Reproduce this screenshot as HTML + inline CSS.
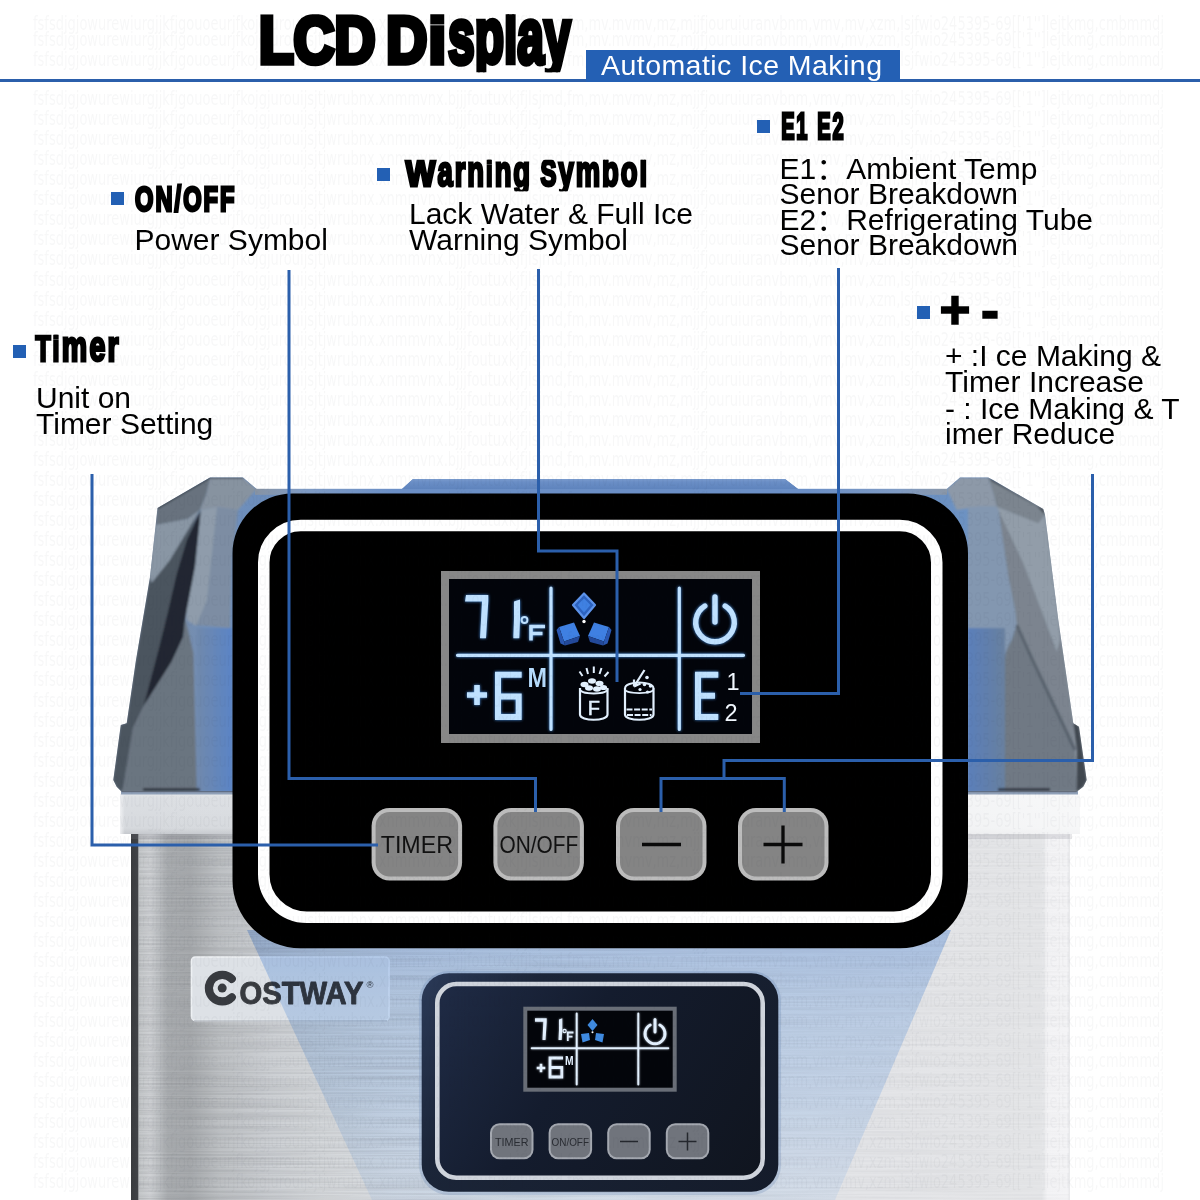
<!DOCTYPE html>
<html lang="en">
<head>
<meta charset="utf-8">
<title>LCD Display - Automatic Ice Making</title>
<style>
html,body{margin:0;padding:0;background:#fff;}
body{width:1200px;height:1200px;overflow:hidden;position:relative;font-family:"Liberation Sans","Noto Sans CJK SC",sans-serif;}
svg{position:absolute;left:0;top:0;display:block;}
.h{font-family:"Liberation Sans",sans-serif;font-weight:bold;fill:#000;stroke:#000;stroke-linejoin:miter;}
.t{font-family:"Liberation Sans","Noto Sans CJK SC",sans-serif;font-size:30px;fill:#000;}
.bl{fill:none;stroke:#2b5fab;stroke-width:3;stroke-linejoin:miter;}
.bq{fill:#2360b4;}
.wm{font-family:"DejaVu Sans Condensed","Liberation Sans",sans-serif;font-size:19px;fill:#1d2333;opacity:.032;}
</style>
</head>
<body>
<svg width="1200" height="1200" viewBox="0 0 1200 1200">
<defs>
<!--DEFS-->
</defs>
<rect width="1200" height="1200" fill="#fff"/>
<g id="machine">
<defs>
<linearGradient id="steel" x1="131" y1="0" x2="1072" y2="0" gradientUnits="userSpaceOnUse">
<stop offset="0" stop-color="#3a3c3f"/>
<stop offset="0.0069" stop-color="#404246"/>
<stop offset="0.0085" stop-color="#c4c7c9"/>
<stop offset="0.02" stop-color="#cfd1d4"/>
<stop offset="0.0276" stop-color="#c2c5c8"/>
<stop offset="0.039" stop-color="#abaeb1"/>
<stop offset="0.0627" stop-color="#a8abae"/>
<stop offset="0.0946" stop-color="#bec1c4"/>
<stop offset="0.148" stop-color="#cccfd3"/>
<stop offset="0.2" stop-color="#d4d7da"/>
<stop offset="0.286" stop-color="#dbdee2"/>
<stop offset="0.4" stop-color="#e0e3e6"/>
<stop offset="0.55" stop-color="#e3e5e8"/>
<stop offset="0.80" stop-color="#e4e5e8"/>
<stop offset="0.968" stop-color="#e5e6e8"/>
<stop offset="0.974" stop-color="#f3f3f5"/>
<stop offset="0.995" stop-color="#f4f4f6"/>
<stop offset="1" stop-color="#dcdde0"/>
</linearGradient>
<linearGradient id="rim" x1="0" y1="794" x2="0" y2="834" gradientUnits="userSpaceOnUse">
<stop offset="0" stop-color="#e2e5e8"/>
<stop offset="0.1" stop-color="#dcdfe3"/>
<stop offset="0.85" stop-color="#d6d9dd"/>
<stop offset="1" stop-color="#c6c9ce"/>
</linearGradient>
<linearGradient id="rimx" x1="120" y1="0" x2="1080" y2="0" gradientUnits="userSpaceOnUse">
<stop offset="0" stop-color="#f2f3f5" stop-opacity=".9"/>
<stop offset="0.005" stop-color="#f2f3f5" stop-opacity=".0"/>
<stop offset="0.3" stop-color="#fff" stop-opacity=".1"/>
<stop offset="0.75" stop-color="#fff" stop-opacity=".55"/>
<stop offset="1" stop-color="#fff" stop-opacity=".8"/>
</linearGradient>
<linearGradient id="cov" x1="113" y1="0" x2="1088" y2="0" gradientUnits="userSpaceOnUse">
<stop offset="0" stop-color="#6e7b8c"/>
<stop offset="0.06" stop-color="#7b8ca3"/>
<stop offset="0.10" stop-color="#6f8fbb"/>
<stop offset="0.5" stop-color="#5f86c0"/>
<stop offset="0.885" stop-color="#6d92c2"/>
<stop offset="0.93" stop-color="#8092a8"/>
<stop offset="1" stop-color="#8d949d"/>
</linearGradient>
<linearGradient id="covy" x1="0" y1="478" x2="0" y2="792" gradientUnits="userSpaceOnUse">
<stop offset="0" stop-color="#fff" stop-opacity=".22"/>
<stop offset="0.35" stop-color="#fff" stop-opacity=".05"/>
<stop offset="0.75" stop-color="#1a2a44" stop-opacity=".12"/>
<stop offset="1" stop-color="#1a2a44" stop-opacity=".28"/>
</linearGradient>
<linearGradient id="lblue" x1="196" y1="0" x2="233" y2="0" gradientUnits="userSpaceOnUse">
<stop offset="0" stop-color="#7189ab"/><stop offset="1" stop-color="#5a84c6"/></linearGradient>
<linearGradient id="rblue" x1="968" y1="0" x2="1005" y2="0" gradientUnits="userSpaceOnUse">
<stop offset="0" stop-color="#5a7fba"/><stop offset="1" stop-color="#68809f"/></linearGradient>
<linearGradient id="covtop" x1="0" y1="479" x2="0" y2="489" gradientUnits="userSpaceOnUse">
<stop offset="0" stop-color="#7a9bcd"/><stop offset="0.3" stop-color="#6a8ec6"/><stop offset="1" stop-color="#5f84bd"/></linearGradient>
<linearGradient id="bandg" x1="255" y1="0" x2="947" y2="0" gradientUnits="userSpaceOnUse"><stop offset="0" stop-color="#8793a3"/><stop offset="0.07" stop-color="#7f9bc4"/><stop offset="0.2" stop-color="#6b8fc6"/><stop offset="0.8" stop-color="#6b8fc6"/><stop offset="0.93" stop-color="#7f9bc4"/><stop offset="1" stop-color="#8a97a8"/></linearGradient>
<linearGradient id="cone" x1="0" y1="930" x2="0" y2="1200" gradientUnits="userSpaceOnUse">
<stop offset="0" stop-color="#bcd4f6"/>
<stop offset="0.26" stop-color="#cfe2fa"/>
<stop offset="0.63" stop-color="#dcebfd"/>
<stop offset="1" stop-color="#eef6ff"/>
</linearGradient>
</defs>
<!-- steel body -->
<rect x="131" y="828" width="939" height="372" fill="url(#steel)"/>
<filter id="brush" x="0" y="0" width="100%" height="100%" color-interpolation-filters="sRGB">
<feTurbulence type="fractalNoise" baseFrequency="0.006 0.55" numOctaves="2" seed="4"/>
<feColorMatrix type="matrix" values="0 0 0 0 0.35  0 0 0 0 0.36  0 0 0 0 0.38  1.6 0 0 0 -0.55"/>
</filter>
<linearGradient id="bmg" x1="139" y1="0" x2="1069" y2="0" gradientUnits="userSpaceOnUse"><stop offset="0" stop-color="#fff"/><stop offset="0.35" stop-color="#bbb"/><stop offset="1" stop-color="#333"/></linearGradient>
<mask id="bm" maskUnits="userSpaceOnUse" x="139" y="834" width="930" height="366"><rect x="139" y="834" width="930" height="366" fill="url(#bmg)"/></mask>
<g mask="url(#bm)"><rect x="139" y="834" width="930" height="366" filter="url(#brush)" opacity=".24"/></g>
<!-- rim band -->
<path d="M120 794H1080V834H120Z" fill="url(#rim)"/>
<path d="M120 794H1080V834H120Z" fill="url(#rimx)"/>
<rect x="121" y="790" width="957" height="4.5" fill="#8fa0b8"/>
<rect x="131" y="834" width="941" height="5" fill="#7d8188" opacity=".18"/>
<!-- translucent cover -->
<path d="M121.7 791.7L116.7 786.7L113.3 780L120.8 725L126.7 723.3L136 660L150 577L157.5 508L210 477.5H243L256.7 489H402L413 479H785L798 489H946.7L960 477.5H988.3L993 480L1043.3 509L1045 515L1058.3 620L1073.3 723.3L1079 726.7L1086.7 780L1083.3 786.7L1076.7 791.7Z" fill="url(#cov)"/>
<rect x="255" y="488.8" width="692" height="6" fill="url(#bandg)"/>
<path d="M402 489L413 479H785L798 489Z" fill="url(#covtop)"/>
<clipPath id="covclip"><path d="M121.7 791.7L116.7 786.7L113.3 780L120.8 725L126.7 723.3L136 660L150 577L157.5 508L210 477.5H243L256.7 489H402L413 479H785L798 489H946.7L960 477.5H988.3L993 480L1043.3 509L1045 515L1058.3 620L1073.3 723.3L1079 726.7L1086.7 780L1083.3 786.7L1076.7 791.7Z"/></clipPath>
<filter id="soft" x="-5%" y="-5%" width="110%" height="110%"><feGaussianBlur stdDeviation="0.9"/></filter>
<g clip-path="url(#covclip)"><g filter="url(#soft)">
<!-- left facets -->
<path d="M200.8 510L217 507L238 510L232 560L230 628L195 625L186.7 620L186.7 610L195 566.7Z" fill="#7d8da3"/>
<path d="M200.8 510L217 507L207 600L196 626L186.7 620L186.7 610L195 566.7Z" fill="#8f9cab"/>
<path d="M196.7 628H232.5V791.7H196.7Z" fill="url(#lblue)"/>
<path d="M157.5 508L210 477.5L206.7 493L200 510L187.5 519L156 525Z" fill="#67727e"/>
<path d="M210 477.5H243L256.7 489L238 510L217 507L200 510L206.7 493Z" fill="#8793a0"/>
<path d="M156 525L187.5 519L200 510L170 560L151.7 583L149 577Z" fill="#8996a4"/>
<path d="M200 510L186.7 540L176.7 573.3L167 615L158.3 650L143.3 706.7L133 728L123 788L121.7 791.7L116.7 786.7L113.3 780L120.8 725L126.7 723.3L136 660L150 577L151.7 583L170 560Z" fill="#4b545e"/>
<path d="M200.8 510L195 566.7L186.7 610L185 620L183.3 636.7L171.7 661.7L143.3 706.7L158.3 650L167 615L176.7 573.3L186.7 540Z" fill="#222830"/>
<path d="M185 620L186.7 625L193.3 653L196.7 791.7H121.7L123 788L133 728L143.3 706.7L171.7 661.7L183.3 636.7Z" fill="#6a7580"/>
<path d="M157.5 508L210 477.5H243" fill="none" stroke="#2b3037" stroke-width="1.6"/>
<path d="M143 789.5H200" stroke="#2a2f38" stroke-width="2.4"/>
<!-- right facets -->
<path d="M946.7 489L960 477.5H988.3L993.3 493.3L996.7 506.7L978.3 506.7L956.7 510Z" fill="#8d99a8"/>
<path d="M988.3 477.5L993 480L1043.3 509L1045 515L1038.3 523.3L996.7 506.7L993.3 493.3Z" fill="#7c858f"/>
<path d="M988.3 477.5L993 480L1043.3 509L1045 515L1037 506L992 481.5Z" fill="#3b4149"/>
<path d="M998.3 510L1008.3 576.7L1015 610L1016.7 625L1033.3 661.7L1046.7 690L1075 750L1073.3 723.3L1058.3 620L1045 515L1038.3 523.3L996.7 506.7Z" fill="#7b848f"/>
<path d="M998.3 510L1023.3 563.3L1045 620L1057 652L1060 640L1058.3 620L1045 515L1038.3 523.3L996.7 506.7Z" fill="#929da9"/>

<path d="M968 507L978.3 506.7L996.7 506.7L998.3 510L1008.3 576.7L1015 610L1016.7 625L1005 653V628H968Z" fill="#8397b0"/>
<path d="M968 628H1005V791.7H968Z" fill="url(#rblue)"/>
<path d="M1005 660Q1005 650 1012 640L1016.7 625L1033.3 661.7L1046.7 690L1075 750L1077 788.3L1076.7 791.7H1005Z" fill="#6f7984"/>
<path d="M1016.7 625L1033.3 661.7L1046.7 690L1075 750" fill="none" stroke="#59626d" stroke-width="3"/>
<path d="M1075 723L1079 726.7L1086.7 780L1083.3 786.7L1076.7 791.7L1077 750L1073.3 723.3Z" fill="#3f464f"/>
<path d="M998 789.5H1050" stroke="#2a2f38" stroke-width="2.4"/>
</g></g>
<path d="M121.7 791.7H1076.7" stroke="#5a6270" stroke-width="1.2" opacity=".7"/>
<!-- brand badge -->
<rect x="191.5" y="957" width="197.5" height="63.5" rx="4" fill="#dde1e6"/>
<rect x="191.5" y="957" width="197.5" height="63.5" rx="4" fill="none" stroke="#eef1f4" stroke-width="1.6"/>
<path d="M194 1020.8H387" stroke="#b9bec6" stroke-width="1.2"/>
<g fill="none" stroke="#383b40">
<path d="M231.8 978.9A13.3 13.3 0 1 0 231.8 997.3" stroke-width="8.2" stroke-linecap="round"/>
</g>
<circle cx="222.2" cy="988.1" r="4.5" fill="#383b40"/>
<text x="239.5" y="1003.6" textLength="124" lengthAdjust="spacingAndGlyphs" style="font-family:'Liberation Sans',sans-serif;font-weight:bold;font-size:31px;fill:#383b40;stroke:#383b40;stroke-width:.9px;stroke-linejoin:round">OSTWAY</text>
<text x="366.5" y="988" style="font-family:'Liberation Sans',sans-serif;font-size:9.5px;fill:#383b40">®</text>
<!-- zoom cone -->
<path d="M247 930L372 1200H835L951 930Z" fill="url(#cone)" style="mix-blend-mode:multiply"/>
</g>
<g id="panel">
<defs>
<filter id="glow" x="-20%" y="-20%" width="140%" height="140%"><feGaussianBlur stdDeviation="1.6"/></filter>
<filter id="glow2" x="-20%" y="-20%" width="140%" height="140%"><feGaussianBlur stdDeviation="0.5"/></filter>
<g id="btn"><rect x="0" y="0" width="90.5" height="72.5" rx="18" fill="#bcbcbc"/><rect x="4" y="4" width="82.5" height="64.5" rx="14" fill="#848484"/></g>
</defs>
<path d="M292.5 493.5H908.0A60 60 0 0 1 968.0 553.5V880.2A68 68 0 0 1 900.0 948.2H300.5A68 68 0 0 1 232.5 880.2V553.5A60 60 0 0 1 292.5 493.5Z" fill="#000"/>
<path d="M300.75 525.5H899.75A37 37 0 0 1 936.75 562.5V874.2A43 43 0 0 1 893.75 917.2H306.75A43 43 0 0 1 263.75 874.2V562.5A37 37 0 0 1 300.75 525.5Z" fill="none" stroke="#fff" stroke-width="11.5"/>
<!-- LCD -->
<rect x="441" y="571" width="319" height="172" fill="#878787"/>
<rect x="449" y="579" width="303" height="155" fill="#02040a"/>
<g id="lcd">
<defs><g id="lcdink">
<!-- dividers -->
<path d="M457.5 655.3H743.5M551 588V729.5M679.3 588V729.5" stroke="currentColor" stroke-width="3.2" fill="none" stroke-linecap="round"/>
<!-- 7 -->
<path d="M466 595H488.3V601L486 638.3H480L482 601.5H465Z" fill="currentColor"/>
<!-- 1 -->
<path d="M514 601.5L520 599.5V619L519.3 638.3H513.3L514 619Z" fill="currentColor"/>
<!-- deg F -->
<circle cx="524.5" cy="620" r="2.9" fill="none" stroke="currentColor" stroke-width="2"/>
<path d="M531 640.5V626.5H545M531 633.5H542.5" stroke="currentColor" stroke-width="3.6" fill="none"/>
<!-- + -->
<path d="M467 695H487M477 685V705" stroke="currentColor" stroke-width="5.6" fill="none"/>
<!-- 6 -->
<path d="M521.7 674.7H498V717H518.7V696.5H498" stroke="currentColor" stroke-width="6" fill="none" stroke-linejoin="miter"/>
<!-- power -->
<path d="M704.8 606A19.3 19.3 0 1 0 725.2 606" stroke="currentColor" stroke-width="5.4" fill="none" stroke-linecap="round"/>
<path d="M715 597V622" stroke="currentColor" stroke-width="5.4" fill="none" stroke-linecap="round"/>
<!-- E -->
<path d="M718.3 674.7H698V717H718.3M698 695.8H715" stroke="currentColor" stroke-width="6" fill="none"/>
</g></defs>
<use href="#lcdink" filter="url(#glow)" style="color:#4f9bf0" opacity=".95"/>
<use href="#lcdink" style="color:#bfe1ff"/>
<!-- M, 1, 2, F as real text -->
<text x="527.5" y="686.5" textLength="19.5" lengthAdjust="spacingAndGlyphs" style="font-family:'Liberation Sans',sans-serif;font-weight:bold;font-size:28px;fill:#b6dcfd">M</text>
<text x="726.5" y="690" style="font-family:'Liberation Sans',sans-serif;font-size:23.5px;fill:#f2f8ff">1</text>
<text x="724.5" y="720.5" style="font-family:'Liberation Sans',sans-serif;font-size:23.5px;fill:#f2f8ff">2</text>
<!-- ice cubes -->
<g stroke-linejoin="round">
<path d="M584 593.5L595 605L584 618L573 605Z" fill="#2d63c0" stroke="#5d93ea" stroke-width="2.2"/>
<path d="M584 598.5L590.5 605L584 612.5L577.5 605Z" fill="#3f80e2"/>
<path d="M559 627L574 622.5L580 636L564 641.5Z" fill="#3f80e2"/>
<path d="M594 622.5L609 627L604 641.5L588 636Z" fill="#3f80e2"/>
<path d="M564 641.5L580 636L578 642L565 645.5Z" fill="#23499a"/>
<path d="M588 636L604 641.5L603 645.5L590 642Z" fill="#23499a"/>
<path d="M556.5 630L559 627L564 641.5L565 645.5L560.5 643.5Z" fill="#2a58b3"/>
<path d="M609 627L611.5 630L607.5 643.5L603 645.5L604 641.5Z" fill="#2a58b3"/>
</g>
<circle cx="584" cy="621.5" r="1.7" fill="#fff"/>
<!-- full bucket -->
<g fill="none" stroke="#e3f1ff" stroke-width="2.2">
<path d="M580 688V714.5C580 721.5 607.5 721.5 607.5 714.5V688"/>
<path d="M580 689C580 695 607.5 695 607.5 689" stroke-width="1.8"/>
<path d="M582.5 676L579.5 671.5M588 674L586.5 668M593.8 673V666.5M599.5 674L601.5 668M604.5 676.5L608.5 672" stroke-width="2"/>
</g>
<g fill="#e3f1ff"><ellipse cx="584.5" cy="684.5" rx="4" ry="2.8"/><ellipse cx="592" cy="681" rx="4" ry="2.8"/><ellipse cx="599.5" cy="683.5" rx="4" ry="2.8"/><ellipse cx="603.5" cy="687.5" rx="3.6" ry="2.6"/><ellipse cx="589" cy="688" rx="4" ry="2.8"/><ellipse cx="597" cy="689" rx="4" ry="2.8"/></g>
<text x="587.8" y="715.3" style="font-family:'Liberation Sans',sans-serif;font-size:20px;fill:#e3f1ff;stroke:#e3f1ff;stroke-width:.5px">F</text>
<!-- water bucket -->
<g fill="none" stroke="#e3f1ff" stroke-width="2.2">
<path d="M625 688V714.5C625 721.5 653.5 721.5 653.5 714.5V688"/>
<path d="M625 688.5C625 680.5 653.5 680.5 653.5 688.5" stroke-width="2"/>
<path d="M625 689C625 694.5 653.5 694.5 653.5 689" stroke-width="1.6"/>
<path d="M626.5 709.5H652M627 715H651.5" stroke-width="2" stroke-dasharray="6 1.6"/>
<path d="M644.5 670L634 686.5M634 686.5L634 679.5M634 686.5L640.5 683.5" stroke-width="2.2"/>
</g>
<g fill="#e3f1ff"><circle cx="647" cy="677.5" r="1.8"/><circle cx="644.5" cy="684.5" r="1.8"/><circle cx="650.5" cy="686" r="1.8"/><circle cx="640" cy="689.5" r="1.6"/><circle cx="647.5" cy="692" r="1.6"/></g>
</g>
<!-- buttons -->
<use href="#btn" x="371.6" y="808"/>
<use href="#btn" x="493.4" y="808"/>
<use href="#btn" x="616" y="808"/>
<use href="#btn" x="738" y="808"/>
<text x="380.7" y="853.4" textLength="72.3" lengthAdjust="spacingAndGlyphs" style="font-family:'Liberation Sans',sans-serif;font-size:24.5px;fill:#111">TIMER</text>
<text x="499.5" y="853.4" textLength="78.7" lengthAdjust="spacingAndGlyphs" style="font-family:'Liberation Sans',sans-serif;font-size:24.5px;fill:#111">ON/OFF</text>
<path d="M642 844.5H681M763.5 844.5H802.5M783 825.5V863.5" stroke="#0a0a0a" stroke-width="3.3" fill="none"/>
</g>
<g id="smallpanel">
<defs>
<linearGradient id="spg" x1="422" y1="973" x2="778" y2="1192" gradientUnits="userSpaceOnUse">
<stop offset="0" stop-color="#2b3a58"/><stop offset="0.25" stop-color="#1b2538"/><stop offset="1" stop-color="#141b2a"/></linearGradient>
<linearGradient id="spi" x1="440" y1="985" x2="760" y2="1178" gradientUnits="userSpaceOnUse">
<stop offset="0" stop-color="#1f2b45"/><stop offset="0.4" stop-color="#141c2e"/><stop offset="1" stop-color="#10151f"/></linearGradient>
<filter id="sglow" x="-20%" y="-20%" width="140%" height="140%"><feGaussianBlur stdDeviation="0.9"/></filter>
<g id="sbtn"><rect x="0" y="0" width="43.5" height="36" rx="9.5" fill="#a4a8b0"/><rect x="2" y="2" width="39.5" height="32" rx="7.5" fill="#70747c"/></g>
</defs>
<rect x="419" y="971" width="362" height="224" rx="30" fill="#5f7fae" opacity=".25"/>
<rect x="421.7" y="973.3" width="356.6" height="218.4" rx="27" fill="url(#spg)"/>
<rect x="437.3" y="984" width="325.4" height="193.8" rx="19" fill="url(#spi)" stroke="#cfd4dc" stroke-width="4.6"/>
<rect x="523.3" y="1006.7" width="153.4" height="85" fill="#696e77"/>
<rect x="527.3" y="1010.7" width="145.4" height="77" fill="#03050a"/>
<g id="slcdink">
<path d="M531.7 1048.3H668.3M576.7 1013.5V1084.5M638.3 1013.5V1084.5" stroke="#e4f1ff" stroke-width="2" fill="none" stroke-linecap="round"/>
<path d="M535 1018.3H546.7V1022L545.5 1040H542.5L543.3 1021.8H535Z" fill="#e4f1ff"/>
<path d="M559 1019.5L562.3 1018.3V1030L561.7 1040H558.5L559 1030Z" fill="#e4f1ff"/>
<circle cx="564.6" cy="1031" r="1.6" fill="none" stroke="#e4f1ff" stroke-width="1.2"/>
<path d="M567.8 1041V1032.5H573.5M567.8 1036.7H572.5" stroke="#e4f1ff" stroke-width="1.8" fill="none"/>
<path d="M536.7 1068H545.3M541 1063.7V1072.3" stroke="#e4f1ff" stroke-width="2.6" fill="none"/>
<path d="M563 1058H550V1077H561.8V1067.5H550" stroke="#e4f1ff" stroke-width="2.8" fill="none"/>
<path d="M650.2 1025A10 10 0 1 0 659.8 1025" stroke="#e4f1ff" stroke-width="3" fill="none" stroke-linecap="round"/>
<path d="M655 1019.5V1032" stroke="#e4f1ff" stroke-width="3" fill="none" stroke-linecap="round"/>
</g>
<use href="#slcdink" filter="url(#sglow)" opacity=".6"/>
<text x="565" y="1065" textLength="8.6" lengthAdjust="spacingAndGlyphs" style="font-family:'Liberation Sans',sans-serif;font-weight:bold;font-size:13px;fill:#e4f1ff">M</text>
<g fill="#3f8ae0">
<path d="M592.5 1019L597.5 1025L592.5 1031L587.5 1025Z"/>
<path d="M581 1034L589 1033L590 1040L582.5 1042.5Z"/>
<path d="M596 1033L604 1034L602.5 1042.5L595 1040Z"/>
</g>
<circle cx="592.5" cy="1032.3" r="1" fill="#fff"/>
<use href="#sbtn" x="490" y="1123.3"/>
<use href="#sbtn" x="548.6" y="1123.3"/>
<use href="#sbtn" x="607.2" y="1123.3"/>
<use href="#sbtn" x="665.8" y="1123.3"/>
<text x="495" y="1145.5" textLength="33.5" lengthAdjust="spacingAndGlyphs" style="font-family:'Liberation Sans',sans-serif;font-size:11.5px;fill:#2a2d33">TIMER</text>
<text x="551.5" y="1145.5" textLength="37.5" lengthAdjust="spacingAndGlyphs" style="font-family:'Liberation Sans',sans-serif;font-size:11.5px;fill:#2a2d33">ON/OFF</text>
<path d="M620 1141.5H638M678.5 1141.5H696.5M687.5 1132.5V1150.5" stroke="#25282e" stroke-width="1.5" fill="none"/>
</g>
<g id="wm" class="wm">
<text x="33" y="30" textLength="1131" lengthAdjust="spacingAndGlyphs">fsfsdjgjowurewiurgjjkfjgouoeurjfkojgjurouijsjtjwrubnx.xnmmvnx.bjjjfoutuxkjfjlsjmd,fm,mv.mvmv,mz,mjjfjouruiuranvbnm,vmv,mv,xzm,lsjfwio245395-69[['1'']lejtkmg,cmbmmdj</text>
<text x="33" y="46" textLength="1131" lengthAdjust="spacingAndGlyphs">fsfsdjgjowurewiurgjjkfjgouoeurjfkojgjurouijsjtjwrubnx.xnmmvnx.bjjjfoutuxkjfjlsjmd,fm,mv.mvmv,mz,mjjfjouruiuranvbnm,vmv,mv,xzm,lsjfwio245395-69[['1'']lejtkmg,cmbmmdj</text>
<text x="33" y="66" textLength="1131" lengthAdjust="spacingAndGlyphs">fsfsdjgjowurewiurgjjkfjgouoeurjfkojgjurouijsjtjwrubnx.xnmmvnx.bjjjfoutuxkjfjlsjmd,fm,mv.mvmv,mz,mjjfjouruiuranvbnm,vmv,mv,xzm,lsjfwio245395-69[['1'']lejtkmg,cmbmmdj</text>
<text x="33" y="105" textLength="1131" lengthAdjust="spacingAndGlyphs">fsfsdjgjowurewiurgjjkfjgouoeurjfkojgjurouijsjtjwrubnx.xnmmvnx.bjjjfoutuxkjfjlsjmd,fm,mv.mvmv,mz,mjjfjouruiuranvbnm,vmv,mv,xzm,lsjfwio245395-69[['1'']lejtkmg,cmbmmdj</text>
<text x="33" y="125.0" textLength="1131" lengthAdjust="spacingAndGlyphs">fsfsdjgjowurewiurgjjkfjgouoeurjfkojgjurouijsjtjwrubnx.xnmmvnx.bjjjfoutuxkjfjlsjmd,fm,mv.mvmv,mz,mjjfjouruiuranvbnm,vmv,mv,xzm,lsjfwio245395-69[['1'']lejtkmg,cmbmmdj</text>
<text x="33" y="145.1" textLength="1131" lengthAdjust="spacingAndGlyphs">fsfsdjgjowurewiurgjjkfjgouoeurjfkojgjurouijsjtjwrubnx.xnmmvnx.bjjjfoutuxkjfjlsjmd,fm,mv.mvmv,mz,mjjfjouruiuranvbnm,vmv,mv,xzm,lsjfwio245395-69[['1'']lejtkmg,cmbmmdj</text>
<text x="33" y="165.2" textLength="1131" lengthAdjust="spacingAndGlyphs">fsfsdjgjowurewiurgjjkfjgouoeurjfkojgjurouijsjtjwrubnx.xnmmvnx.bjjjfoutuxkjfjlsjmd,fm,mv.mvmv,mz,mjjfjouruiuranvbnm,vmv,mv,xzm,lsjfwio245395-69[['1'']lejtkmg,cmbmmdj</text>
<text x="33" y="185.2" textLength="1131" lengthAdjust="spacingAndGlyphs">fsfsdjgjowurewiurgjjkfjgouoeurjfkojgjurouijsjtjwrubnx.xnmmvnx.bjjjfoutuxkjfjlsjmd,fm,mv.mvmv,mz,mjjfjouruiuranvbnm,vmv,mv,xzm,lsjfwio245395-69[['1'']lejtkmg,cmbmmdj</text>
<text x="33" y="205.3" textLength="1131" lengthAdjust="spacingAndGlyphs">fsfsdjgjowurewiurgjjkfjgouoeurjfkojgjurouijsjtjwrubnx.xnmmvnx.bjjjfoutuxkjfjlsjmd,fm,mv.mvmv,mz,mjjfjouruiuranvbnm,vmv,mv,xzm,lsjfwio245395-69[['1'']lejtkmg,cmbmmdj</text>
<text x="33" y="225.3" textLength="1131" lengthAdjust="spacingAndGlyphs">fsfsdjgjowurewiurgjjkfjgouoeurjfkojgjurouijsjtjwrubnx.xnmmvnx.bjjjfoutuxkjfjlsjmd,fm,mv.mvmv,mz,mjjfjouruiuranvbnm,vmv,mv,xzm,lsjfwio245395-69[['1'']lejtkmg,cmbmmdj</text>
<text x="33" y="245.4" textLength="1131" lengthAdjust="spacingAndGlyphs">fsfsdjgjowurewiurgjjkfjgouoeurjfkojgjurouijsjtjwrubnx.xnmmvnx.bjjjfoutuxkjfjlsjmd,fm,mv.mvmv,mz,mjjfjouruiuranvbnm,vmv,mv,xzm,lsjfwio245395-69[['1'']lejtkmg,cmbmmdj</text>
<text x="33" y="265.4" textLength="1131" lengthAdjust="spacingAndGlyphs">fsfsdjgjowurewiurgjjkfjgouoeurjfkojgjurouijsjtjwrubnx.xnmmvnx.bjjjfoutuxkjfjlsjmd,fm,mv.mvmv,mz,mjjfjouruiuranvbnm,vmv,mv,xzm,lsjfwio245395-69[['1'']lejtkmg,cmbmmdj</text>
<text x="33" y="285.5" textLength="1131" lengthAdjust="spacingAndGlyphs">fsfsdjgjowurewiurgjjkfjgouoeurjfkojgjurouijsjtjwrubnx.xnmmvnx.bjjjfoutuxkjfjlsjmd,fm,mv.mvmv,mz,mjjfjouruiuranvbnm,vmv,mv,xzm,lsjfwio245395-69[['1'']lejtkmg,cmbmmdj</text>
<text x="33" y="305.5" textLength="1131" lengthAdjust="spacingAndGlyphs">fsfsdjgjowurewiurgjjkfjgouoeurjfkojgjurouijsjtjwrubnx.xnmmvnx.bjjjfoutuxkjfjlsjmd,fm,mv.mvmv,mz,mjjfjouruiuranvbnm,vmv,mv,xzm,lsjfwio245395-69[['1'']lejtkmg,cmbmmdj</text>
<text x="33" y="325.6" textLength="1131" lengthAdjust="spacingAndGlyphs">fsfsdjgjowurewiurgjjkfjgouoeurjfkojgjurouijsjtjwrubnx.xnmmvnx.bjjjfoutuxkjfjlsjmd,fm,mv.mvmv,mz,mjjfjouruiuranvbnm,vmv,mv,xzm,lsjfwio245395-69[['1'']lejtkmg,cmbmmdj</text>
<text x="33" y="345.6" textLength="1131" lengthAdjust="spacingAndGlyphs">fsfsdjgjowurewiurgjjkfjgouoeurjfkojgjurouijsjtjwrubnx.xnmmvnx.bjjjfoutuxkjfjlsjmd,fm,mv.mvmv,mz,mjjfjouruiuranvbnm,vmv,mv,xzm,lsjfwio245395-69[['1'']lejtkmg,cmbmmdj</text>
<text x="33" y="365.7" textLength="1131" lengthAdjust="spacingAndGlyphs">fsfsdjgjowurewiurgjjkfjgouoeurjfkojgjurouijsjtjwrubnx.xnmmvnx.bjjjfoutuxkjfjlsjmd,fm,mv.mvmv,mz,mjjfjouruiuranvbnm,vmv,mv,xzm,lsjfwio245395-69[['1'']lejtkmg,cmbmmdj</text>
<text x="33" y="385.7" textLength="1131" lengthAdjust="spacingAndGlyphs">fsfsdjgjowurewiurgjjkfjgouoeurjfkojgjurouijsjtjwrubnx.xnmmvnx.bjjjfoutuxkjfjlsjmd,fm,mv.mvmv,mz,mjjfjouruiuranvbnm,vmv,mv,xzm,lsjfwio245395-69[['1'']lejtkmg,cmbmmdj</text>
<text x="33" y="405.8" textLength="1131" lengthAdjust="spacingAndGlyphs">fsfsdjgjowurewiurgjjkfjgouoeurjfkojgjurouijsjtjwrubnx.xnmmvnx.bjjjfoutuxkjfjlsjmd,fm,mv.mvmv,mz,mjjfjouruiuranvbnm,vmv,mv,xzm,lsjfwio245395-69[['1'']lejtkmg,cmbmmdj</text>
<text x="33" y="425.8" textLength="1131" lengthAdjust="spacingAndGlyphs">fsfsdjgjowurewiurgjjkfjgouoeurjfkojgjurouijsjtjwrubnx.xnmmvnx.bjjjfoutuxkjfjlsjmd,fm,mv.mvmv,mz,mjjfjouruiuranvbnm,vmv,mv,xzm,lsjfwio245395-69[['1'']lejtkmg,cmbmmdj</text>
<text x="33" y="445.9" textLength="1131" lengthAdjust="spacingAndGlyphs">fsfsdjgjowurewiurgjjkfjgouoeurjfkojgjurouijsjtjwrubnx.xnmmvnx.bjjjfoutuxkjfjlsjmd,fm,mv.mvmv,mz,mjjfjouruiuranvbnm,vmv,mv,xzm,lsjfwio245395-69[['1'']lejtkmg,cmbmmdj</text>
<text x="33" y="465.9" textLength="1131" lengthAdjust="spacingAndGlyphs">fsfsdjgjowurewiurgjjkfjgouoeurjfkojgjurouijsjtjwrubnx.xnmmvnx.bjjjfoutuxkjfjlsjmd,fm,mv.mvmv,mz,mjjfjouruiuranvbnm,vmv,mv,xzm,lsjfwio245395-69[['1'']lejtkmg,cmbmmdj</text>
<text x="33" y="486.0" textLength="1131" lengthAdjust="spacingAndGlyphs">fsfsdjgjowurewiurgjjkfjgouoeurjfkojgjurouijsjtjwrubnx.xnmmvnx.bjjjfoutuxkjfjlsjmd,fm,mv.mvmv,mz,mjjfjouruiuranvbnm,vmv,mv,xzm,lsjfwio245395-69[['1'']lejtkmg,cmbmmdj</text>
<text x="33" y="506.0" textLength="1131" lengthAdjust="spacingAndGlyphs">fsfsdjgjowurewiurgjjkfjgouoeurjfkojgjurouijsjtjwrubnx.xnmmvnx.bjjjfoutuxkjfjlsjmd,fm,mv.mvmv,mz,mjjfjouruiuranvbnm,vmv,mv,xzm,lsjfwio245395-69[['1'']lejtkmg,cmbmmdj</text>
<text x="33" y="526.1" textLength="1131" lengthAdjust="spacingAndGlyphs">fsfsdjgjowurewiurgjjkfjgouoeurjfkojgjurouijsjtjwrubnx.xnmmvnx.bjjjfoutuxkjfjlsjmd,fm,mv.mvmv,mz,mjjfjouruiuranvbnm,vmv,mv,xzm,lsjfwio245395-69[['1'']lejtkmg,cmbmmdj</text>
<text x="33" y="546.1" textLength="1131" lengthAdjust="spacingAndGlyphs">fsfsdjgjowurewiurgjjkfjgouoeurjfkojgjurouijsjtjwrubnx.xnmmvnx.bjjjfoutuxkjfjlsjmd,fm,mv.mvmv,mz,mjjfjouruiuranvbnm,vmv,mv,xzm,lsjfwio245395-69[['1'']lejtkmg,cmbmmdj</text>
<text x="33" y="566.2" textLength="1131" lengthAdjust="spacingAndGlyphs">fsfsdjgjowurewiurgjjkfjgouoeurjfkojgjurouijsjtjwrubnx.xnmmvnx.bjjjfoutuxkjfjlsjmd,fm,mv.mvmv,mz,mjjfjouruiuranvbnm,vmv,mv,xzm,lsjfwio245395-69[['1'']lejtkmg,cmbmmdj</text>
<text x="33" y="586.2" textLength="1131" lengthAdjust="spacingAndGlyphs">fsfsdjgjowurewiurgjjkfjgouoeurjfkojgjurouijsjtjwrubnx.xnmmvnx.bjjjfoutuxkjfjlsjmd,fm,mv.mvmv,mz,mjjfjouruiuranvbnm,vmv,mv,xzm,lsjfwio245395-69[['1'']lejtkmg,cmbmmdj</text>
<text x="33" y="606.2" textLength="1131" lengthAdjust="spacingAndGlyphs">fsfsdjgjowurewiurgjjkfjgouoeurjfkojgjurouijsjtjwrubnx.xnmmvnx.bjjjfoutuxkjfjlsjmd,fm,mv.mvmv,mz,mjjfjouruiuranvbnm,vmv,mv,xzm,lsjfwio245395-69[['1'']lejtkmg,cmbmmdj</text>
<text x="33" y="626.3" textLength="1131" lengthAdjust="spacingAndGlyphs">fsfsdjgjowurewiurgjjkfjgouoeurjfkojgjurouijsjtjwrubnx.xnmmvnx.bjjjfoutuxkjfjlsjmd,fm,mv.mvmv,mz,mjjfjouruiuranvbnm,vmv,mv,xzm,lsjfwio245395-69[['1'']lejtkmg,cmbmmdj</text>
<text x="33" y="646.3" textLength="1131" lengthAdjust="spacingAndGlyphs">fsfsdjgjowurewiurgjjkfjgouoeurjfkojgjurouijsjtjwrubnx.xnmmvnx.bjjjfoutuxkjfjlsjmd,fm,mv.mvmv,mz,mjjfjouruiuranvbnm,vmv,mv,xzm,lsjfwio245395-69[['1'']lejtkmg,cmbmmdj</text>
<text x="33" y="666.4" textLength="1131" lengthAdjust="spacingAndGlyphs">fsfsdjgjowurewiurgjjkfjgouoeurjfkojgjurouijsjtjwrubnx.xnmmvnx.bjjjfoutuxkjfjlsjmd,fm,mv.mvmv,mz,mjjfjouruiuranvbnm,vmv,mv,xzm,lsjfwio245395-69[['1'']lejtkmg,cmbmmdj</text>
<text x="33" y="686.4" textLength="1131" lengthAdjust="spacingAndGlyphs">fsfsdjgjowurewiurgjjkfjgouoeurjfkojgjurouijsjtjwrubnx.xnmmvnx.bjjjfoutuxkjfjlsjmd,fm,mv.mvmv,mz,mjjfjouruiuranvbnm,vmv,mv,xzm,lsjfwio245395-69[['1'']lejtkmg,cmbmmdj</text>
<text x="33" y="706.5" textLength="1131" lengthAdjust="spacingAndGlyphs">fsfsdjgjowurewiurgjjkfjgouoeurjfkojgjurouijsjtjwrubnx.xnmmvnx.bjjjfoutuxkjfjlsjmd,fm,mv.mvmv,mz,mjjfjouruiuranvbnm,vmv,mv,xzm,lsjfwio245395-69[['1'']lejtkmg,cmbmmdj</text>
<text x="33" y="726.5" textLength="1131" lengthAdjust="spacingAndGlyphs">fsfsdjgjowurewiurgjjkfjgouoeurjfkojgjurouijsjtjwrubnx.xnmmvnx.bjjjfoutuxkjfjlsjmd,fm,mv.mvmv,mz,mjjfjouruiuranvbnm,vmv,mv,xzm,lsjfwio245395-69[['1'']lejtkmg,cmbmmdj</text>
<text x="33" y="746.6" textLength="1131" lengthAdjust="spacingAndGlyphs">fsfsdjgjowurewiurgjjkfjgouoeurjfkojgjurouijsjtjwrubnx.xnmmvnx.bjjjfoutuxkjfjlsjmd,fm,mv.mvmv,mz,mjjfjouruiuranvbnm,vmv,mv,xzm,lsjfwio245395-69[['1'']lejtkmg,cmbmmdj</text>
<text x="33" y="766.6" textLength="1131" lengthAdjust="spacingAndGlyphs">fsfsdjgjowurewiurgjjkfjgouoeurjfkojgjurouijsjtjwrubnx.xnmmvnx.bjjjfoutuxkjfjlsjmd,fm,mv.mvmv,mz,mjjfjouruiuranvbnm,vmv,mv,xzm,lsjfwio245395-69[['1'']lejtkmg,cmbmmdj</text>
<text x="33" y="786.7" textLength="1131" lengthAdjust="spacingAndGlyphs">fsfsdjgjowurewiurgjjkfjgouoeurjfkojgjurouijsjtjwrubnx.xnmmvnx.bjjjfoutuxkjfjlsjmd,fm,mv.mvmv,mz,mjjfjouruiuranvbnm,vmv,mv,xzm,lsjfwio245395-69[['1'']lejtkmg,cmbmmdj</text>
<text x="33" y="806.7" textLength="1131" lengthAdjust="spacingAndGlyphs">fsfsdjgjowurewiurgjjkfjgouoeurjfkojgjurouijsjtjwrubnx.xnmmvnx.bjjjfoutuxkjfjlsjmd,fm,mv.mvmv,mz,mjjfjouruiuranvbnm,vmv,mv,xzm,lsjfwio245395-69[['1'']lejtkmg,cmbmmdj</text>
<text x="33" y="826.8" textLength="1131" lengthAdjust="spacingAndGlyphs">fsfsdjgjowurewiurgjjkfjgouoeurjfkojgjurouijsjtjwrubnx.xnmmvnx.bjjjfoutuxkjfjlsjmd,fm,mv.mvmv,mz,mjjfjouruiuranvbnm,vmv,mv,xzm,lsjfwio245395-69[['1'']lejtkmg,cmbmmdj</text>
<text x="33" y="846.8" textLength="1131" lengthAdjust="spacingAndGlyphs">fsfsdjgjowurewiurgjjkfjgouoeurjfkojgjurouijsjtjwrubnx.xnmmvnx.bjjjfoutuxkjfjlsjmd,fm,mv.mvmv,mz,mjjfjouruiuranvbnm,vmv,mv,xzm,lsjfwio245395-69[['1'']lejtkmg,cmbmmdj</text>
<text x="33" y="866.9" textLength="1131" lengthAdjust="spacingAndGlyphs">fsfsdjgjowurewiurgjjkfjgouoeurjfkojgjurouijsjtjwrubnx.xnmmvnx.bjjjfoutuxkjfjlsjmd,fm,mv.mvmv,mz,mjjfjouruiuranvbnm,vmv,mv,xzm,lsjfwio245395-69[['1'']lejtkmg,cmbmmdj</text>
<text x="33" y="886.9" textLength="1131" lengthAdjust="spacingAndGlyphs">fsfsdjgjowurewiurgjjkfjgouoeurjfkojgjurouijsjtjwrubnx.xnmmvnx.bjjjfoutuxkjfjlsjmd,fm,mv.mvmv,mz,mjjfjouruiuranvbnm,vmv,mv,xzm,lsjfwio245395-69[['1'']lejtkmg,cmbmmdj</text>
<text x="33" y="907.0" textLength="1131" lengthAdjust="spacingAndGlyphs">fsfsdjgjowurewiurgjjkfjgouoeurjfkojgjurouijsjtjwrubnx.xnmmvnx.bjjjfoutuxkjfjlsjmd,fm,mv.mvmv,mz,mjjfjouruiuranvbnm,vmv,mv,xzm,lsjfwio245395-69[['1'']lejtkmg,cmbmmdj</text>
<text x="33" y="927.0" textLength="1131" lengthAdjust="spacingAndGlyphs">fsfsdjgjowurewiurgjjkfjgouoeurjfkojgjurouijsjtjwrubnx.xnmmvnx.bjjjfoutuxkjfjlsjmd,fm,mv.mvmv,mz,mjjfjouruiuranvbnm,vmv,mv,xzm,lsjfwio245395-69[['1'']lejtkmg,cmbmmdj</text>
<text x="33" y="947.1" textLength="1131" lengthAdjust="spacingAndGlyphs">fsfsdjgjowurewiurgjjkfjgouoeurjfkojgjurouijsjtjwrubnx.xnmmvnx.bjjjfoutuxkjfjlsjmd,fm,mv.mvmv,mz,mjjfjouruiuranvbnm,vmv,mv,xzm,lsjfwio245395-69[['1'']lejtkmg,cmbmmdj</text>
<text x="33" y="967.1" textLength="1131" lengthAdjust="spacingAndGlyphs">fsfsdjgjowurewiurgjjkfjgouoeurjfkojgjurouijsjtjwrubnx.xnmmvnx.bjjjfoutuxkjfjlsjmd,fm,mv.mvmv,mz,mjjfjouruiuranvbnm,vmv,mv,xzm,lsjfwio245395-69[['1'']lejtkmg,cmbmmdj</text>
<text x="33" y="987.2" textLength="1131" lengthAdjust="spacingAndGlyphs">fsfsdjgjowurewiurgjjkfjgouoeurjfkojgjurouijsjtjwrubnx.xnmmvnx.bjjjfoutuxkjfjlsjmd,fm,mv.mvmv,mz,mjjfjouruiuranvbnm,vmv,mv,xzm,lsjfwio245395-69[['1'']lejtkmg,cmbmmdj</text>
<text x="33" y="1007.2" textLength="1131" lengthAdjust="spacingAndGlyphs">fsfsdjgjowurewiurgjjkfjgouoeurjfkojgjurouijsjtjwrubnx.xnmmvnx.bjjjfoutuxkjfjlsjmd,fm,mv.mvmv,mz,mjjfjouruiuranvbnm,vmv,mv,xzm,lsjfwio245395-69[['1'']lejtkmg,cmbmmdj</text>
<text x="33" y="1027.3" textLength="1131" lengthAdjust="spacingAndGlyphs">fsfsdjgjowurewiurgjjkfjgouoeurjfkojgjurouijsjtjwrubnx.xnmmvnx.bjjjfoutuxkjfjlsjmd,fm,mv.mvmv,mz,mjjfjouruiuranvbnm,vmv,mv,xzm,lsjfwio245395-69[['1'']lejtkmg,cmbmmdj</text>
<text x="33" y="1047.3" textLength="1131" lengthAdjust="spacingAndGlyphs">fsfsdjgjowurewiurgjjkfjgouoeurjfkojgjurouijsjtjwrubnx.xnmmvnx.bjjjfoutuxkjfjlsjmd,fm,mv.mvmv,mz,mjjfjouruiuranvbnm,vmv,mv,xzm,lsjfwio245395-69[['1'']lejtkmg,cmbmmdj</text>
<text x="33" y="1067.4" textLength="1131" lengthAdjust="spacingAndGlyphs">fsfsdjgjowurewiurgjjkfjgouoeurjfkojgjurouijsjtjwrubnx.xnmmvnx.bjjjfoutuxkjfjlsjmd,fm,mv.mvmv,mz,mjjfjouruiuranvbnm,vmv,mv,xzm,lsjfwio245395-69[['1'']lejtkmg,cmbmmdj</text>
<text x="33" y="1087.4" textLength="1131" lengthAdjust="spacingAndGlyphs">fsfsdjgjowurewiurgjjkfjgouoeurjfkojgjurouijsjtjwrubnx.xnmmvnx.bjjjfoutuxkjfjlsjmd,fm,mv.mvmv,mz,mjjfjouruiuranvbnm,vmv,mv,xzm,lsjfwio245395-69[['1'']lejtkmg,cmbmmdj</text>
<text x="33" y="1107.5" textLength="1131" lengthAdjust="spacingAndGlyphs">fsfsdjgjowurewiurgjjkfjgouoeurjfkojgjurouijsjtjwrubnx.xnmmvnx.bjjjfoutuxkjfjlsjmd,fm,mv.mvmv,mz,mjjfjouruiuranvbnm,vmv,mv,xzm,lsjfwio245395-69[['1'']lejtkmg,cmbmmdj</text>
<text x="33" y="1127.5" textLength="1131" lengthAdjust="spacingAndGlyphs">fsfsdjgjowurewiurgjjkfjgouoeurjfkojgjurouijsjtjwrubnx.xnmmvnx.bjjjfoutuxkjfjlsjmd,fm,mv.mvmv,mz,mjjfjouruiuranvbnm,vmv,mv,xzm,lsjfwio245395-69[['1'']lejtkmg,cmbmmdj</text>
<text x="33" y="1147.6" textLength="1131" lengthAdjust="spacingAndGlyphs">fsfsdjgjowurewiurgjjkfjgouoeurjfkojgjurouijsjtjwrubnx.xnmmvnx.bjjjfoutuxkjfjlsjmd,fm,mv.mvmv,mz,mjjfjouruiuranvbnm,vmv,mv,xzm,lsjfwio245395-69[['1'']lejtkmg,cmbmmdj</text>
<text x="33" y="1167.6" textLength="1131" lengthAdjust="spacingAndGlyphs">fsfsdjgjowurewiurgjjkfjgouoeurjfkojgjurouijsjtjwrubnx.xnmmvnx.bjjjfoutuxkjfjlsjmd,fm,mv.mvmv,mz,mjjfjouruiuranvbnm,vmv,mv,xzm,lsjfwio245395-69[['1'']lejtkmg,cmbmmdj</text>
<text x="33" y="1187.7" textLength="1131" lengthAdjust="spacingAndGlyphs">fsfsdjgjowurewiurgjjkfjgouoeurjfkojgjurouijsjtjwrubnx.xnmmvnx.bjjjfoutuxkjfjlsjmd,fm,mv.mvmv,mz,mjjfjouruiuranvbnm,vmv,mv,xzm,lsjfwio245395-69[['1'']lejtkmg,cmbmmdj</text>
</g>
<!--HEADER-->
<g id="header">
<rect x="0" y="79" width="1200" height="3" fill="#2b5fab"/>
<rect x="586" y="50" width="314" height="32" fill="#2460b4"/>
<text x="601" y="75" style="font-family:'Liberation Sans',sans-serif;font-size:28.5px;letter-spacing:.45px;fill:#fff">Automatic Ice Making</text>
<clipPath id="ch0"><rect x="240" y="14.3" width="360" height="58"/></clipPath>
<g clip-path="url(#ch0)"><text class="h" transform="translate(258.9,62.8) scale(0.652,1)" font-size="66" style="stroke-width:5.5px"><tspan textLength="258" lengthAdjust="spacingAndGlyphs" word-spacing="-6">LCD D</tspan><tspan dx="2" textLength="27" lengthAdjust="spacingAndGlyphs">i</tspan><tspan dx="3" font-size="77" textLength="188" lengthAdjust="spacingAndGlyphs">splay</tspan></text></g>
</g>
<!--LABELS-->
<g id="labels">
<rect class="bq" x="111" y="192" width="13" height="13"/>
<text class="h" transform="translate(135,211.3) scale(0.685,1)" font-size="34.5" style="stroke-width:3px" letter-spacing="3">ON/OFF</text>
<text class="t" x="134.5" y="250">Power Symbol</text>

<rect class="bq" x="377" y="168" width="13" height="13"/>
<clipPath id="ch1"><rect x="400" y="159.8" width="260" height="31.5"/></clipPath>
<g clip-path="url(#ch1)"><text class="h" transform="translate(405.5,186) scale(0.653,1)" font-size="36.5" style="stroke-width:3px" letter-spacing="3"><tspan textLength="46" lengthAdjust="spacingAndGlyphs" letter-spacing="0">W</tspan><tspan dx="3" font-size="42">arn</tspan>i<tspan font-size="42">ng</tspan> S<tspan font-size="42">ymbol</tspan></text></g>
<text class="t" x="409" y="224">Lack Water &amp; Full Ice</text>
<text class="t" x="409" y="249.5">Warning Symbol</text>

<rect class="bq" x="757" y="120" width="13" height="13"/>
<text class="h" transform="translate(781.2,138.5) scale(0.55,1)" font-size="36.5" style="stroke-width:3px" letter-spacing="3" word-spacing="2">E1 E2</text>
<text class="t" x="779.5" y="178.5">E1：Ambient Temp</text>
<text class="t" x="779.5" y="204">Senor Breakdown</text>
<text class="t" x="779.5" y="229.5">E2：Refrigerating Tube</text>
<text class="t" x="779.5" y="255">Senor Breakdown</text>

<rect class="bq" x="917" y="306" width="13" height="13"/>
<text class="h" x="939.5" y="328" font-size="53" style="stroke-width:1.6px" word-spacing="-2">+ <tspan dy="0.8" dx="-2.2" font-size="54">-</tspan></text>
<text class="t" x="945" y="366">+ :I ce Making &amp;</text>
<text class="t" x="945" y="392">Timer Increase</text>
<text class="t" x="945" y="418.5">- : Ice Making &amp; T</text>
<text class="t" x="945" y="444">imer Reduce</text>

<rect class="bq" x="13" y="345" width="13" height="13"/>
<clipPath id="ch2"><rect x="30" y="334.8" width="100" height="31.5"/></clipPath>
<g clip-path="url(#ch2)"><text class="h" transform="translate(35.5,361) scale(0.68,1)" font-size="36.5" style="stroke-width:3px" letter-spacing="3.4">Ti<tspan font-size="42">mer</tspan></text></g>
<text class="t" x="36" y="408">Unit on</text>
<text class="t" x="36" y="434">Timer Setting</text>
</g>
<!--LINES-->
<g id="lines">
<path class="bl" d="M92 474V845H378"/>
<path class="bl" d="M289 270V778.5H535.5V812"/>
<path class="bl" d="M538.5 269V551H617V682"/>
<path class="bl" d="M838.5 268V693.5H740"/>
<path class="bl" d="M1092.5 474V760.5H724V778.5M661 812V778.5H784.3V812"/>
</g>
</svg>
</body>
</html>
